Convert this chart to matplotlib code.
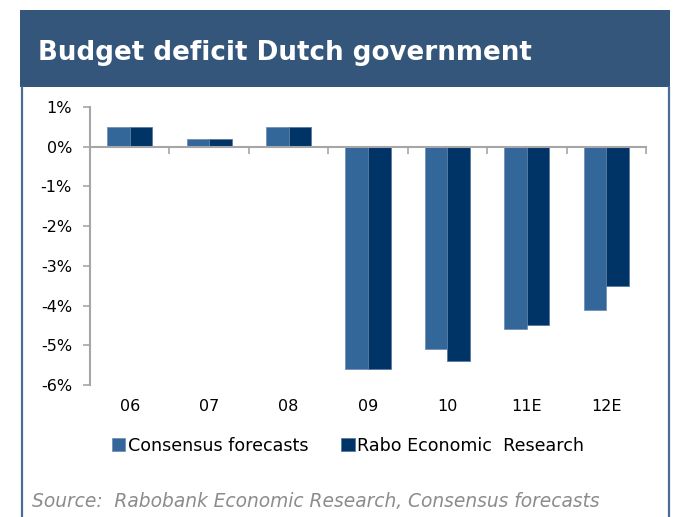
import numpy as np
import matplotlib
matplotlib.use("Agg")
import matplotlib.pyplot as plt
from matplotlib.patches import Rectangle
from matplotlib.lines import Line2D
import matplotlib.transforms as mtransforms

# budget balance as % of GDP
years = ["06", "07", "08", "09", "10", "11E", "12E"]
consensus = [0.5, 0.2, 0.5, -5.6, -5.1, -4.6, -4.1]
rabo = [0.5, 0.2, 0.5, -5.6, -5.4, -4.5, -3.5]
series_names = ["Consensus forecasts", "Rabo Economic  Research"]
y_ticks = [1, 0, -1, -2, -3, -4, -5, -6]

HEADER = "#34567a"
FRAME = "#4a6b92"
LIGHT_BLUE = "#336699"
DARK_BLUE = "#003366"
AXIS_GREY = "#a6a6a6"

W, H = 673, 517
fig = plt.figure(figsize=(W / 100, H / 100), dpi=100)
fig.patch.set_facecolor("white")

# title band and side frame lines
fig.patches.append(Rectangle((20 / W, 1 - 87 / H), 650 / W, 77.5 / H,
                             transform=fig.transFigure, facecolor=HEADER,
                             edgecolor="none", zorder=0))
for xp in (21.5, 668.5):
    fig.add_artist(Line2D([xp / W, xp / W], [0, 1 - 87 / H],
                          transform=fig.transFigure, color=FRAME, lw=1.6))
fig.text(38 / W, 1 - 60 / H, "Budget deficit Dutch government",
         color="white", fontsize=18.8, fontweight="bold", va="baseline")

ax = fig.add_axes([90 / W, 1 - 385 / H, 556 / W, 278 / H])
x = np.arange(len(years))
bw = 0.285
ax.bar(x - bw / 2, consensus, bw, color=LIGHT_BLUE, edgecolor="#7391b5",
       linewidth=0.6, label=series_names[0], zorder=2)
ax.bar(x + bw / 2, rabo, bw, color=DARK_BLUE, edgecolor="#5a7aa0",
       linewidth=0.6, label=series_names[1], zorder=2)

ax.set_xlim(-0.5, len(years) - 0.5)
ax.set_ylim(-6, 1)
ax.set_yticks(y_ticks)
ax.set_yticklabels([f"{v}%" for v in y_ticks])
ax.tick_params(axis="y", direction="out", length=5, width=1.2,
               color=AXIS_GREY, pad=8, labelsize=11.5)

# category boundary ticks hang off the zero line
ax.set_xticks(np.arange(-0.5, len(years), 1.0))
ax.set_xticklabels([])
ax.tick_params(axis="x", direction="out", length=5, width=1.2, color=AXIS_GREY)
for xi, lab in zip(x, years):
    ax.text(xi, -0.079, lab, transform=mtransforms.blended_transform_factory(
        ax.transData, ax.transAxes), ha="center", va="center", fontsize=11.5)

for s in ("top", "right"):
    ax.spines[s].set_visible(False)
ax.spines["left"].set_color(AXIS_GREY)
ax.spines["left"].set_linewidth(1.5)
ax.spines["bottom"].set_position(("data", 0))
ax.spines["bottom"].set_color(AXIS_GREY)
ax.spines["bottom"].set_linewidth(1.5)
ax.spines["bottom"].set_zorder(3)
ax.patch.set_alpha(0)

fig.legend(loc="center", bbox_to_anchor=(348 / W, 1 - 446 / H), ncol=2,
           frameon=False, fontsize=12.6, handlelength=0.75, handleheight=0.75,
           handletextpad=0.15, columnspacing=1.9, borderaxespad=0)

fig.text(32 / W, 1 - 507 / H,
         "Source:  Rabobank Economic Research, Consensus forecasts",
         color="#8c8c8c", fontsize=13.4, style="italic", va="baseline")

fig.savefig("out.png", dpi=100)
